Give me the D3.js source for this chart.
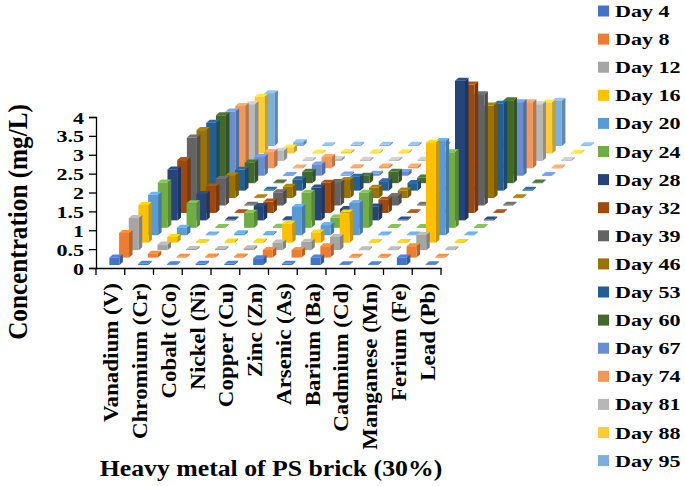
<!DOCTYPE html>
<html><head><meta charset="utf-8">
<script src="https://cdn.jsdelivr.net/npm/d3@7"></script>
<style>body{margin:0;background:#fff}text{font-family:"Liberation Serif","Times New Roman",serif;font-weight:bold;fill:#000}</style>
</head><body><svg id="c" width="685" height="486"></svg>
<script>
const metals = ["Vanadium (V)","Chromium (Cr)","Cobalt (Co)","Nickel (Ni)","Copper (Cu)","Zinc (Zn)","Arsenic (As)","Barium (Ba)","Cadmium (Cd)","Manganese (Mn)","Ferium (Fe)","Lead (Pb)"];
const days = ["Day 4","Day 8","Day 12","Day 16","Day 20","Day 24","Day 28","Day 32","Day 39","Day 46","Day 53","Day 60","Day 67","Day 74","Day 81","Day 88","Day 95"];
const colors = ["#4472C4","#ED7D31","#A5A5A5","#FFC000","#5B9BD5","#70AD47","#264478","#9E480E","#636363","#997300","#255E91","#43682B","#698ED0","#F1975A","#B7B7B7","#FFCD33","#7CAFDD"];
const yTicks = [0,0.5,1,1.5,2,2.5,3,3.5,4];
const vV  = [0.2,0.65,0.85,1.0,1.07,1.2,1.35,1.4,1.8,1.8,1.8,1.8,1.7,1.65,1.5,1.5,1.4];
const vCr = [0.03,0.1,0.15,0.15,0.2,0.65,0.7,0.7,0.7,0.6,0.55,0.55,0.5,0.43,0.27,0.16,0.1];
const vCo = [0.02,0.02,0.03,0.02,0.02,0.02,0.02,0.02,0.02,0.02,0.02,0.02,0.02,0.02,0.02,0.02,0.02];
const vNi = [0.03,0.03,0.03,0.03,0.05,0.4,0.38,0.3,0.35,0.3,0.3,0.3,0.3,0.3,0.05,0.04,0.03];
const vCu = [0.03,0.03,0.05,0.03,0.03,0.03,0.03,0.03,0.03,0.03,0.03,0.03,0.03,0.03,0.03,0.03,0.03];
const vZn = [0.18,0.2,0.2,0.5,0.75,0.93,0.87,0.8,0.6,0.48,0.37,0.2,0.05,0.05,0.03,0.03,0.03];
const vAs = [0.03,0.2,0.22,0.27,0.27,0.27,0.3,0.25,0.25,0.27,0.25,0.3,0.1,0.05,0.03,0.03,0.03];
const vBa = [0.2,0.3,0.35,0.8,0.85,0.93,0.37,0.35,0.25,0.2,0.2,0.15,0.05,0.04,0.03,0.03,0.03];
const vCd = [0.02,0.02,0.02,0.02,0.02,0.02,0.02,0.02,0.02,0.02,0.02,0.02,0.02,0.02,0.02,0.02,0.02];
const vMn = [0.02,0.02,0.02,0.02,0.02,0.02,0.02,0.02,0.02,0.02,0.02,0.02,0.02,0.02,0.02,0.02,0.02];
const vFe = [0.2,0.3,0.4,2.65,2.5,2.0,3.7,3.4,2.95,2.45,2.3,2.2,1.95,1.75,1.5,1.35,1.2];
const vPb = [0.02,0.02,0.02,0.02,0.02,0.02,0.02,0.02,0.02,0.02,0.02,0.02,0.02,0.02,0.02,0.02,0.02];
const values = [vV,vCr,vCo,vNi,vCu,vZn,vAs,vBa,vCd,vMn,vFe,vPb];

const svg = d3.select("#c");
const x = d3.scaleBand().domain(metals).range([96,441]);
const y = d3.scaleLinear().domain([0,4]).range([268,117]);
const depth = d3.scaleLinear().domain([0,days.length-1]).range([0,1]);
const DX = 155, DY = -119;
const bw = 10, sx = 3.5, sy = -3;
const SX = 1.3;

const ya = svg.append("g").attr("transform","translate(96,0)")
  .call(d3.axisLeft(y).tickValues(yTicks).tickFormat(d3.format("")).tickSizeOuter(0).tickSize(7));
ya.select(".domain").attr("stroke","#000").attr("stroke-width",1.3);
ya.selectAll("line").attr("stroke","#000").attr("stroke-width",1.3);
ya.selectAll("text").remove();
ya.selectAll(".tick").append("text").attr("text-anchor","end")
  .attr("transform",`translate(-12,6) scale(${SX},1)`).attr("font-size",17).attr("fill","#000").text(d=>d);

svg.append("g").attr("transform","translate(0,268)")
  .call(d3.axisBottom(x).tickValues([]).tickSizeOuter(0))
  .call(g=>g.select(".domain").attr("stroke","#000").attr("stroke-width",1.3));
const tickPos = metals.map(m=>x(m)).concat([441]);
svg.append("g").selectAll("line").data(tickPos).join("line")
  .attr("x1",d=>d).attr("x2",d=>d).attr("y1",268).attr("y2",275).attr("stroke","#000").attr("stroke-width",1.3);

const bars = [];
for (let s=days.length-1;s>=0;s--) for (let i=0;i<metals.length;i++) bars.push({s,i,v:values[i][s]});
const g = svg.append("g");
bars.forEach(b=>{
  const c = d3.color(colors[b.s]);
  const cx = x(metals[b.i]) + x.bandwidth()/2 + 4 + depth(b.s)*DX;
  const by = y(0) - 3 + depth(b.s)*DY;
  const h = y(0) - y(b.v);
  const x0 = cx - bw/2, x1 = cx + bw/2, top = by - h;
  g.append("path").attr("d",`M${x0},${top}L${x0+sx},${top+sy}L${x1+sx},${top+sy}L${x1},${top}Z`).attr("fill",c.brighter(0.4));
  g.append("path").attr("d",`M${x1},${top}L${x1+sx},${top+sy}L${x1+sx},${by+sy}L${x1},${by}Z`).attr("fill",c.darker(0.7));
  g.append("rect").attr("x",x0).attr("y",top).attr("width",bw).attr("height",Math.max(h,0.8)).attr("fill",c);
});

svg.append("g").selectAll("text").data(metals).join("text")
  .attr("transform",d=>`translate(${x(d)+x.bandwidth()/2+8},283) rotate(-90) scale(1.15,1)`)
  .attr("text-anchor","end").attr("font-size",20).text(d=>d);

svg.append("text").attr("transform","translate(27,222) rotate(-90) scale(1.05,1.15)").attr("text-anchor","middle").attr("font-size",24).text("Concentration (mg/L)");
svg.append("text").attr("transform","translate(271,476) scale(1.12,1)").attr("text-anchor","middle").attr("font-size",23).text("Heavy metal of PS brick (30%)");

const leg = svg.append("g").selectAll("g").data(days).join("g").attr("transform",(d,k)=>`translate(598,${11+k*28.1})`);
leg.append("rect").attr("x",0).attr("y",-5.5).attr("width",11).attr("height",11).attr("fill",(d,k)=>colors[k]);
leg.append("text").attr("transform",`translate(17,6) scale(${SX},1)`).attr("font-size",17).text(d=>d);
</script></body></html>
